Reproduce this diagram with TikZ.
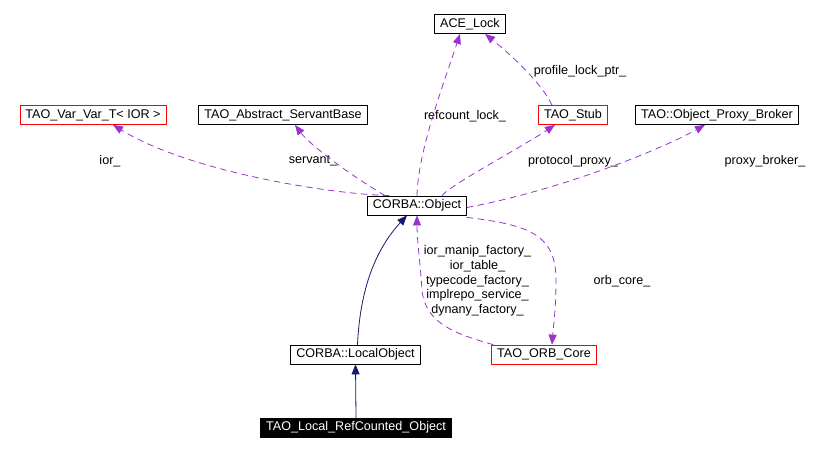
\documentclass[tikz,border=0pt]{standalone}
\usepackage{fontspec}
\setmainfont{Liberation Sans}
\usetikzlibrary{arrows.meta}
\definecolor{usecol}{RGB}{154,50,205}
\definecolor{inhcol}{RGB}{25,25,112}
\begin{document}
\begin{tikzpicture}[x=1pt, y=-1pt, line cap=round, line join=round,
    font=\fontsize{12.6}{14.7}\selectfont,
    cls/.style={draw=black, line width=0.8pt, inner xsep=5.5pt, inner ysep=0pt, minimum height=19pt},
    redcls/.style={cls, draw=red},
    lbl/.style={inner sep=0pt, align=center},
    uses/.style={draw=usecol, line width=0.8pt, dash pattern=on 6pt off 5pt, -{Triangle[length=10pt,width=8pt,fill=usecol]}},
    inherits/.style={draw=inhcol, line width=0.8pt, -{Triangle[length=10pt,width=8pt,fill=inhcol]}}]

    \useasboundingbox (0,0) rectangle (826,451);

    % classes
    \node[cls] (ace) at (470,24) {ACE\_Lock};
    \node[redcls] (var) at (93,115) {TAO\_Var\_Var\_T< IOR >};
    \node[cls] (servant) at (283,115) {TAO\_Abstract\_ServantBase};
    \node[redcls] (stub) at (573,115) {TAO\_Stub};
    \node[cls] (broker) at (717,115) {TAO::Object\_Proxy\_Broker};
    \node[cls] (obj) at (417,205.5) {CORBA::Object};
    \node[cls] (lobj) at (355.5,354.5) {CORBA::LocalObject};
    \node[redcls] (orb) at (544,354.5) {TAO\_ORB\_Core};
    \node[cls, fill=black, text=white] (refobj) at (356,427.5) {TAO\_Local\_RefCounted\_Object};

    % member names
    \node[lbl] (lblprofile) at (580,71) {profile\_lock\_ptr\_};
    \node[lbl] (lblrefcount) at (465,116) {refcount\_lock\_};
    \node[lbl] (lblior) at (110,161) {ior\_};
    \node[lbl] (lblservant) at (313,161) {servant\_};
    \node[lbl] (lblproxy) at (573,161) {protocol\_proxy\_};
    \node[lbl] (lblbroker) at (765,161) {proxy\_broker\_};
    \node[lbl] (lblorb) at (622,281) {orb\_core\_};
    \node[lbl] (lblfact) at (477.5,281) {ior\_manip\_factory\_\\ior\_table\_\\typecode\_factory\_\\implrepo\_service\_\\dynany\_factory\_};

    % usage
    \draw[uses] (obj.north) .. controls (418,150) and (445,80) .. ([xshift=-10]ace.south);
    \draw[uses] ([xshift=-21]stub.north) .. controls (540,80) and (505,50) .. ([xshift=15]ace.south);
    \draw[uses] ([xshift=22]obj.north west) .. controls (330,194) and (190,172) .. ([xshift=20]var.south);
    \draw[uses] ([xshift=18]obj.north west) .. controls (350,175) and (310,145) .. ([xshift=12]servant.south);
    \draw[uses] ([xshift=25]obj.north) .. controls (450,185) and (520,148) .. ([xshift=-18]stub.south);
    \draw[uses] ([yshift=-2]obj.east) .. controls (560,190) and (660,150) .. ([xshift=-12]broker.south);
    \draw[uses] ([yshift=-2]obj.south east) .. controls (530,225) and (556,235) .. (556,280)
        .. controls (556,310) and (553,330) .. ([xshift=8]orb.north);
    \draw[uses] ([xshift=-51]orb.north) .. controls (460,335) and (425,325) .. (422,290)
        .. controls (420,260) and (417,240) .. (obj.south);

    % inheritance
    \draw[inherits] ([xshift=2]lobj.north) .. controls (360,290) and (375,250) .. ([xshift=-10]obj.south);
    \draw[inherits] (refobj.north) -- (lobj.south);

\end{tikzpicture}
\end{document}
